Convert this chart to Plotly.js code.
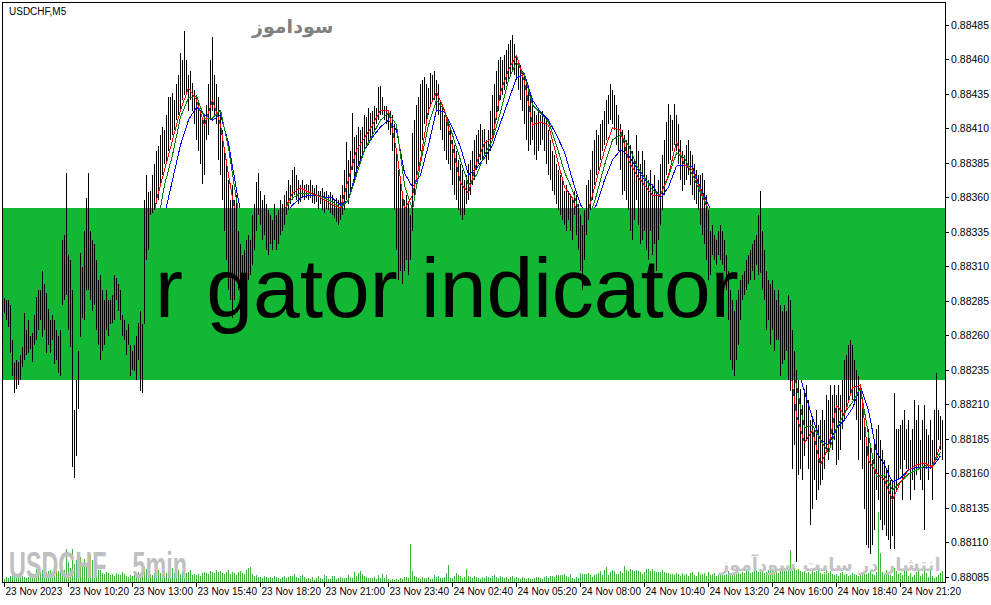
<!DOCTYPE html>
<html>
<head>
<meta charset="utf-8">
<script src="https://cdn.plot.ly/plotly-3.0.1.min.js"></script>
<style>
  html, body { margin: 0; padding: 0; background: #ffffff; }
  #chart { width: 991px; height: 605px; }
  #chart .scatterlayer path.js-line, #chart .scatterlayer path.js-fill { shape-rendering: crispEdges; }
</style>
</head>
<body>
<div id="chart"></div>
<script>
// ---- DATA (USDCHF, M5) — prices in points above BASE (1 point = 0.00001) ----
const BASE = 0.88;
const POINT = 0.00001;

const HIGH = [
287,286,286,282,257,240,242,241,246,252,
276,264,271,260,262,275,288,293,293,307,
297,291,279,271,275,271,264,260,264,329,
333,378,318,315,293,206,228,249,320,310,
336,360,378,336,329,326,315,300,304,293,
286,293,286,286,289,304,302,297,293,275,
271,264,268,253,249,253,260,269,278,268,
358,376,364,365,376,384,394,397,405,411,
409,420,433,433,436,431,442,449,465,460,
481,460,449,452,443,438,434,431,423,416,
420,427,442,460,476,449,442,433,423,409,
394,384,373,358,369,358,362,336,326,318,
322,329,333,329,347,355,371,378,365,358,
362,355,351,347,344,355,347,351,358,355,
362,365,373,369,380,382,376,373,369,373,
369,370,369,373,369,367,369,365,365,367,
364,365,362,364,362,358,360,358,362,369,
380,400,387,394,421,404,405,411,409,411,
420,418,425,421,423,426,425,440,441,433,
426,426,423,423,420,413,394,380,373,365,
358,362,355,347,407,416,427,433,442,445,
447,442,439,450,449,452,445,442,431,427,
420,416,413,409,402,398,394,387,384,380,
373,376,384,387,394,402,405,409,413,409,
410,402,409,423,434,442,452,460,462,460,
463,467,471,474,478,471,463,460,456,452,
449,442,438,434,431,423,420,423,420,423,
420,416,409,402,394,391,384,380,376,373,
365,369,365,362,358,365,362,355,347,340,
351,369,373,380,394,402,409,405,413,416,
423,431,434,442,438,434,427,420,413,409,
405,402,409,398,394,387,405,394,384,394,
387,376,373,380,369,376,365,373,384,391,
402,415,428,420,416,428,420,413,402,394,
391,398,402,394,391,384,380,376,376,378,
373,362,351,336,340,333,329,336,340,336,
329,318,307,293,286,278,286,293,300,304,
307,315,318,322,326,329,333,347,365,336,
322,307,300,297,300,293,286,293,282,278,
282,278,289,286,264,249,235,228,221,210,
221,224,213,199,199,192,206,195,199,206,
199,217,213,224,217,224,217,224,217,228,
242,246,253,257,253,242,235,231,224,213,
199,184,192,181,170,184,192,195,184,177,
170,163,166,155,155,218,192,192,195,199,
206,192,199,184,192,213,199,210,184,199,
210,192,188,199,184,206,233,206,202,199
];

const LOW = [
276,271,266,247,231,218,221,224,228,237,
242,246,247,250,241,253,257,264,271,259,
264,247,253,247,257,239,242,233,231,282,
286,289,264,252,165,157,173,207,259,273,
271,293,293,286,278,282,264,253,242,249,
253,264,260,268,269,271,286,278,271,260,
257,246,253,231,235,234,228,242,220,218,
268,315,322,347,349,351,355,358,369,376,
384,384,394,402,405,409,416,420,423,431,
434,434,423,431,423,413,402,394,384,370,
376,402,405,416,423,420,413,387,376,358,
336,315,293,286,273,286,300,293,286,293,
297,297,300,304,311,322,336,347,340,329,
333,322,318,326,322,329,322,326,333,336,
340,347,351,355,358,362,358,355,357,360,
358,360,358,360,356,355,357,352,355,351,
349,352,351,349,347,345,342,340,344,347,
351,358,355,362,380,373,376,384,387,391,
394,396,398,402,405,409,413,416,420,420,
416,413,409,405,394,351,322,300,307,297,
307,315,304,315,336,358,373,380,394,402,
413,416,420,427,431,431,423,420,409,402,
394,387,384,380,369,362,358,351,347,344,
347,355,358,362,369,373,380,384,387,387,
391,384,387,394,402,409,416,423,431,434,
438,442,445,449,452,449,445,438,431,423,
413,402,394,398,402,391,387,394,398,402,
394,384,376,373,365,362,355,351,347,344,
340,336,344,336,329,347,333,322,307,293,
315,333,344,351,358,369,376,380,387,394,
398,402,413,416,413,409,398,394,380,362,
365,358,351,336,329,344,358,340,326,329,
336,322,315,336,318,326,307,329,340,351,
362,376,384,387,394,398,394,384,373,365,
369,373,376,369,362,358,355,351,340,333,
326,315,300,304,318,315,311,318,315,311,
307,293,271,242,235,231,242,253,271,286,
289,293,297,300,307,300,311,304,305,293,
286,264,271,253,264,249,257,257,231,239,
242,249,228,220,163,181,96,159,163,155,
173,184,163,123,134,155,141,148,152,155,
163,177,170,181,177,184,166,170,177,192,
199,206,213,217,213,210,199,170,184,163,
134,108,106,102,108,119,148,141,126,119,
123,115,112,105,115,105,148,155,163,141,
170,163,163,141,155,148,159,163,155,148,
119,163,155,163,141,170,170,184,177,170
];

// tick volume per bar
const VOLUME = [
3,5,4,6,7,5,6,6,5,6,5,4,5,6,7,5,
13,9,10,12,9,10,11,12,10,15,12,11,14,16,12,33,
20,14,33,18,22,15,25,20,23,18,25,27,22,26,16,12,
12,9,8,10,9,7,8,6,9,8,7,10,8,6,5,7,
6,7,9,10,8,12,15,13,10,8,7,9,10,12,9,10,
11,9,12,10,14,9,11,12,8,10,13,9,10,12,7,8,
7,8,6,9,10,9,8,11,10,9,12,10,11,9,8,10,
12,8,10,9,7,10,11,9,8,12,14,15,8,6,7,5,
5,4,6,5,4,5,4,6,5,4,3,5,6,4,5,6,
6,8,5,4,6,7,5,3,4,3,5,2,4,6,4,3,
7,6,3,3,6,6,3,4,5,4,4,4,7,5,4,10,
6,9,11,8,6,5,4,4,4,5,3,7,4,8,4,7,
3,2,3,2,3,2,4,3,5,5,4,38,11,6,5,4,
3,5,4,4,5,3,3,7,5,6,4,4,5,9,17,4,
4,6,9,7,6,4,5,13,6,5,4,6,5,4,3,5,
4,6,5,4,6,7,5,4,6,5,4,5,3,5,6,4,
5,4,3,5,4,3,4,3,3,4,5,5,4,3,5,6,
4,6,6,5,7,7,7,7,8,6,5,8,4,3,5,4,
9,8,8,8,9,7,5,7,8,9,11,7,12,15,7,10,
12,11,8,8,11,9,16,12,11,13,12,11,12,11,10,8,
10,13,13,11,13,11,10,10,10,12,10,9,9,8,8,7,
9,8,6,9,7,8,6,9,10,7,6,10,7,8,9,6,
10,7,8,9,6,7,8,9,7,8,11,8,9,10,8,9,
8,10,9,11,12,9,10,11,12,10,13,11,9,10,12,17,
12,10,11,9,13,12,14,11,15,32,18,14,12,13,11,10,
11,9,10,8,12,10,11,14,9,8,10,12,9,11,8,7,
8,6,9,10,7,8,6,7,9,8,7,6,9,7,10,8,
9,12,8,7,10,70,29,10,8,12,9,7,6,14,11,8,
9,7,12,15,6,9,5,7,10,13,6,8,12,9,5,13,
6,4,5,7,9,11
];

// Alligator lines, one value every MA_EVERY bars (points above BASE)
const MA_EVERY = 4;
const JAW_BLUE = [
274.8,272.7,267.6,260.4,260.4,267.6,274.8,274.8,272.7,264.0,
260.4,274.8,285.7,287.2,289.3,287.9,278.5,267.6,285.7,318.3,
347.3,372.7,398.0,416.1,425.6,419.8,416.1,419.8,399.5,365.4,
336.4,325.6,329.2,335.0,340.1,347.3,354.6,359.6,361.8,361.8,
360.3,359.6,354.6,358.2,379.9,394.4,403.8,411.1,416.1,408.9,
377.7,367.6,376.3,398.0,423.4,421.9,410.4,396.6,376.3,381.4,
388.6,398.0,414.7,430.6,446.6,449.5,430.6,421.9,416.1,405.3,
393.0,372.7,354.6,347.3,354.6,372.7,387.2,394.4,390.8,381.4,
372.7,369.0,359.6,367.6,382.8,383.5,382.1,366.9,354.6,340.1,
325.6,311.1,296.6,293.0,300.2,303.8,296.6,282.1,264.0,238.6,
219.1,200.2,184.3,180.6,193.0,198.8,207.5,222.7,206.0,175.6,
166.2,153.8,156.7,162.5,164.7,163.9,164.7,172.7
];
const TEETH_RED = [
282.1,274.8,260.4,253.1,264.0,278.5,282.1,271.2,271.2,228.0,
264.0,300.2,293.0,285.7,293.0,285.7,267.6,256.7,325.6,358.2,
379.9,401.7,423.4,439.3,430.6,412.5,430.6,412.5,376.3,343.7,
314.7,329.2,347.3,340.1,340.1,350.9,363.2,366.9,364.0,361.8,
358.2,354.6,352.4,372.7,394.4,403.1,412.5,423.4,423.4,394.4,
350.9,361.8,387.2,423.4,436.4,423.4,398.0,370.5,363.2,385.0,
399.5,403.1,436.4,452.4,463.2,443.7,412.5,414.7,412.5,390.8,
367.6,359.6,340.1,350.9,372.7,394.4,410.4,408.9,387.2,376.3,
369.0,361.8,361.8,376.3,400.2,383.5,379.9,365.4,350.9,329.2,
321.9,285.7,278.5,300.2,314.7,307.5,285.7,264.0,245.9,202.4,
182.1,191.5,166.2,179.2,209.6,202.4,222.0,224.1,169.8,160.4,
155.3,140.8,153.8,162.5,166.2,167.6,164.7,180.6
];
const LIPS_GREEN = [
278.5,274.8,264.0,256.7,260.4,271.2,278.5,274.8,271.2,249.5,
256.7,285.7,293.0,289.3,291.5,287.2,272.7,260.4,293.0,336.4,
369.0,390.8,418.3,432.1,433.5,417.6,417.6,423.4,395.9,358.2,
325.6,325.6,340.1,340.1,343.7,350.9,359.6,363.2,363.2,361.8,
359.6,356.7,352.4,358.2,376.3,394.4,405.3,416.1,421.2,412.5,
369.0,350.9,385.0,412.5,430.6,423.4,405.3,387.2,369.0,376.3,
390.8,401.7,421.9,445.1,458.2,448.8,427.0,421.2,414.7,398.0,
378.5,365.4,347.3,343.7,361.8,383.5,401.7,405.3,398.0,383.5,
374.1,365.4,361.8,375.0,392.2,388.6,376.3,363.2,350.9,332.8,
321.9,296.6,282.1,293.0,307.5,307.5,293.0,274.8,253.1,224.1,
193.0,195.1,184.3,174.8,193.0,203.8,211.8,222.0,187.9,157.5,
158.9,148.0,153.8,159.6,162.5,165.4,166.2,175.6
];

// x-axis labels, one every TICK_EVERY bars
const TICK_EVERY = 32;
const TICK_LABELS = [
"23 Nov 2023","23 Nov 10:20","23 Nov 13:00","23 Nov 15:40","23 Nov 18:20",
"23 Nov 21:00","23 Nov 23:40","24 Nov 02:40","24 Nov 05:20","24 Nov 08:00",
"24 Nov 10:40","24 Nov 13:20","24 Nov 16:00","24 Nov 18:40","24 Nov 21:20"
];

// price axis
const Y_MIN = 0.8808138, Y_MAX = 0.8850094;
const Y_TICK0 = 0.88085, Y_DTICK = 0.00025;

// decorative banner band (price levels)
const BANNER_TOP = 0.883524, BANNER_BOTTOM = 0.882280;

// ---- BUILD ----
const price = p => BASE + p * POINT;
const N = Math.min(HIGH.length, LOW.length);

// full bars (under the indicator lines)
const barX = [], barY = [];
// the part of each bar that lies inside the banner band (drawn over the banner)
const inX = [], inY = [];
for (let i = 0; i < N; i++) {
  const lo = price(LOW[i]), hi = price(HIGH[i]);
  barX.push(i, i, null);
  barY.push(lo, hi, null);
  const a = Math.max(lo, BANNER_BOTTOM), b = Math.min(hi, BANNER_TOP);
  if (b > a) { inX.push(i, i, null); inY.push(a, b, null); }
}
const volX = [], volY = [];
for (let i = 0; i < VOLUME.length; i++) {
  volX.push(i, i, null);
  volY.push(0, VOLUME[i], null);
}
const maTrace = (arr, color) => ({
  type: 'scatter', mode: 'lines',
  x: arr.map((_, k) => k * MA_EVERY),
  y: arr.map(price),
  line: { color: color, width: 1 },
  hoverinfo: 'skip'
});

const data = [
  { type: 'scatter', mode: 'lines', x: barX, y: barY, connectgaps: false,
    line: { color: '#000000', width: 1 }, hoverinfo: 'skip' },
  maTrace(JAW_BLUE, '#0000ff'),
  maTrace(LIPS_GREEN, '#008000'),
  maTrace(TEETH_RED, '#ff0000'),
  { // banner band
    type: 'scatter', mode: 'lines',
    x: [-20, N + 20, N + 20, -20, -20],
    y: [BANNER_TOP, BANNER_TOP, BANNER_BOTTOM, BANNER_BOTTOM, BANNER_TOP],
    fill: 'toself', fillcolor: '#12b833',
    line: { width: 0, color: '#12b833' },
    hoverinfo: 'skip'
  },
  { type: 'scatter', mode: 'lines', x: inX, y: inY, connectgaps: false,
    line: { color: '#000000', width: 1 }, hoverinfo: 'skip' },
  { type: 'scatter', mode: 'lines', yaxis: 'y2',
    x: volX, y: volY, connectgaps: false,
    line: { color: '#3fb53f', width: 1 }, hoverinfo: 'skip' }
];

const tickFont = { family: 'Liberation Sans, Arial, sans-serif', size: 10, color: '#000000' };

const layout = {
  width: 991, height: 605,
  margin: { l: 3, r: 46, t: 3, b: 23, pad: 0 },
  paper_bgcolor: '#ffffff', plot_bgcolor: '#ffffff',
  showlegend: false, hovermode: false,
  xaxis: {
    range: [-0.75, 470.25], showgrid: false, zeroline: false,
    showline: true, linecolor: '#000000', linewidth: 1, mirror: true,
    ticks: 'outside', ticklen: 4, tickcolor: '#000000', tickwidth: 1,
    tickmode: 'array',
    tickvals: TICK_LABELS.map((_, k) => k * TICK_EVERY),
    ticktext: TICK_LABELS,
    tickangle: 0,
    ticklabelposition: 'outside right',
    tickfont: tickFont, fixedrange: true
  },
  yaxis: {
    range: [Y_MIN, Y_MAX], side: 'right', showgrid: false, zeroline: false,
    showline: true, linecolor: '#000000', linewidth: 1, mirror: true,
    ticks: 'outside', ticklen: 3, tickcolor: '#000000',
    tickmode: 'linear', tick0: Y_TICK0, dtick: Y_DTICK, tickformat: '.5f',
    tickfont: { family: 'Liberation Sans, Arial, sans-serif', size: 10.5, color: '#000000' },
    fixedrange: true
  },
  yaxis2: { overlaying: 'y', range: [0, 579], visible: false, fixedrange: true },
  annotations: [
    { text: 'USDCHF,M5', xref: 'paper', yref: 'paper', x: 0.0042, y: 0.986,
      xanchor: 'left', yanchor: 'middle', align: 'left', showarrow: false,
      font: { family: 'Liberation Sans, Arial, sans-serif', size: 10, color: '#000000' } },
    { text: 'سوداموز', xref: 'paper', yref: 'paper', x: 0.3068, y: 0.960,
      xanchor: 'center', yanchor: 'middle', showarrow: false,
      font: { family: 'DejaVu Sans, sans-serif', size: 19, color: '#808080', weight: 'bold' } },
    { text: 'r gator indicator', xref: 'paper', yref: 'paper', x: 0.4713, y: 0.508,
      xanchor: 'center', yanchor: 'middle', showarrow: false,
      font: { family: 'Liberation Sans, Arial, sans-serif', size: 84, color: '#000000' } },
    { text: 'USDCHF\u00a0\u00a0\u00a0\u00a05min', xref: 'paper', yref: 'paper', x: 0.0045, y: 0.0285,
      xanchor: 'left', yanchor: 'middle', align: 'left', showarrow: false,
      font: { family: 'Liberation Sans, Arial, sans-serif', size: 36, color: '#bfbfbf', weight: 'bold' } },
    { text: 'انتشار در سایت سودآموز', xref: 'paper', yref: 'paper', x: 0.8769, y: 0.0294,
      xanchor: 'center', yanchor: 'middle', showarrow: false,
      font: { family: 'DejaVu Sans, sans-serif', size: 18, color: '#c4c4c4', weight: 'bold' } }
  ]
};

// condensed watermark width (px)
const SQUEEZE = { 'USDCHF\u00a0\u00a0\u00a0\u00a05min': 178 };

Plotly.newPlot('chart', data, layout, { staticPlot: true, displayModeBar: false }).then(gd => {
  gd.querySelectorAll('.annotation-text').forEach(t => {
    const w = SQUEEZE[t.textContent];
    if (w) {
      t.setAttribute('textLength', w);
      t.setAttribute('lengthAdjust', 'spacingAndGlyphs');
    }
  });
});
</script>
</body>
</html>
